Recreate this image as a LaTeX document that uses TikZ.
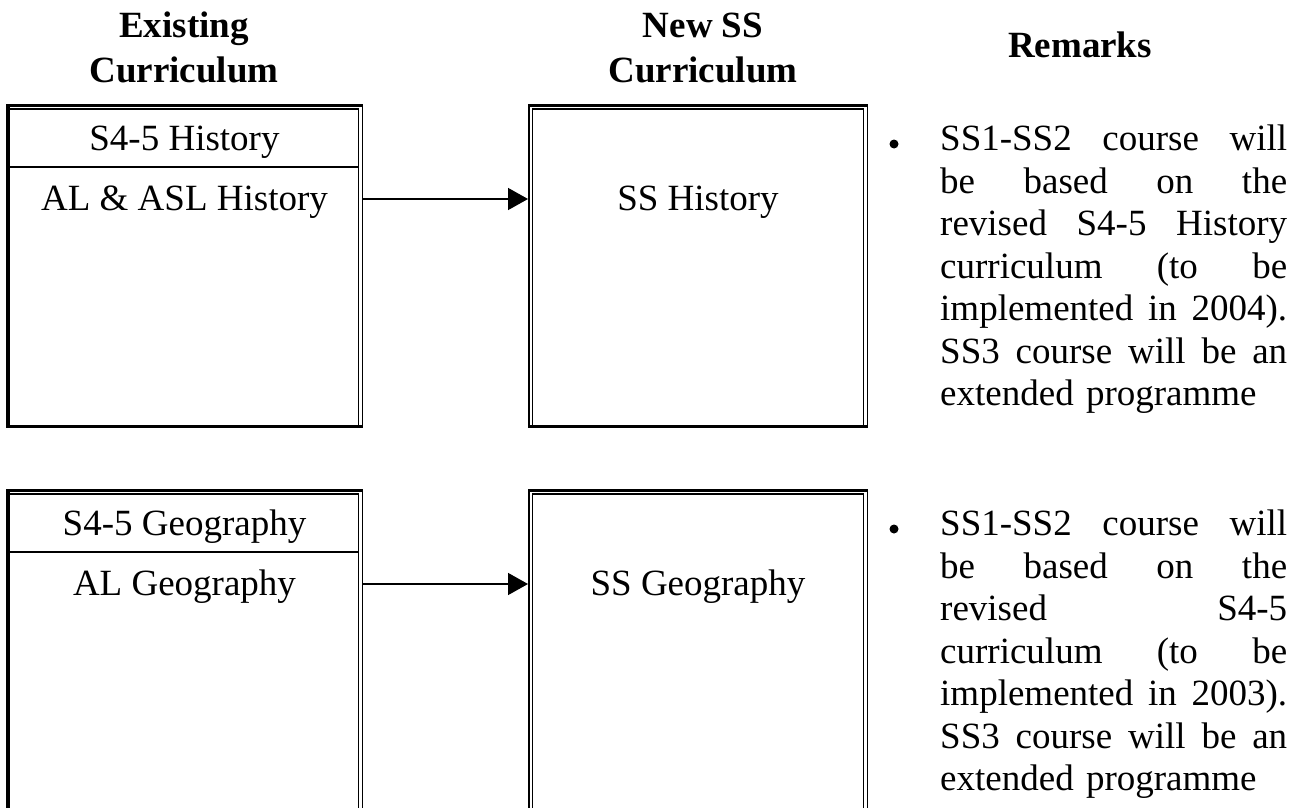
\documentclass[tikz,border=0pt]{standalone}
\usepackage{fontspec}
\setmainfont{Liberation Serif}
\usetikzlibrary{arrows.meta,calc}
\newcommand{\bodyfont}{\fontsize{37}{42.5}\selectfont}
\newcommand{\headfont}{\fontsize{37}{45}\selectfont\bfseries}
\newcommand{\jl}[1]{\makebox[347pt][s]{\spaceskip=0pt\xspaceskip=0pt\relax #1}}
\tikzset{
  boxarea/.style={draw=none,inner sep=0pt,outer sep=0pt,minimum width=#1,minimum height=324pt,anchor=north west},
  thickln/.style={line width=3pt},
  vthick/.style={line width=4pt},
  thinln/.style={line width=1.5pt},
  lbl/.style={font=\bodyfont,inner sep=0pt,anchor=base},
  head/.style={font=\headfont,inner sep=0pt,anchor=base,align=center},
  remark/.style={font=\bodyfont,inner sep=0pt,anchor=north west,text width=347pt,align=left},
  arr/.style={line width=1.5pt,-{Triangle[length=20pt,width=22pt]}},
  bul/.style={circle,fill=black,inner sep=0pt,minimum size=9pt}
}
% #1 node name; left border single thick
\newcommand{\frameA}[1]{%
  \draw[thickln] ([yshift=-1.5pt]#1.north west) -- ([yshift=-1.5pt]#1.north east);
  \draw[thickln] ([yshift=1.5pt]#1.south west) -- ([yshift=1.5pt]#1.south east);
  \draw[vthick] ([xshift=2pt]#1.north west) -- ([xshift=2pt]#1.south west);
  \draw[thinln] ([xshift=-0.75pt]#1.north east) -- ([xshift=-0.75pt]#1.south east);
  \draw[thinln] ([xshift=-4.5pt,yshift=-4pt]#1.north east) -- ([xshift=-4.5pt,yshift=1pt]#1.south east);
  \draw[thinln] ([xshift=4pt,yshift=-5pt]#1.north west) -- ([xshift=-4.5pt,yshift=-5pt]#1.north east);
}
% left border double
\newcommand{\frameB}[1]{%
  \draw[thickln] ([yshift=-1.5pt]#1.north west) -- ([yshift=-1.5pt]#1.north east);
  \draw[thickln] ([yshift=1.5pt]#1.south west) -- ([yshift=1.5pt]#1.south east);
  \draw[line width=2pt] ([xshift=1pt]#1.north west) -- ([xshift=1pt]#1.south west);
  \draw[thinln] ([xshift=4.5pt,yshift=-4pt]#1.north west) -- ([xshift=4.5pt,yshift=1pt]#1.south west);
  \draw[thinln] ([xshift=-0.75pt]#1.north east) -- ([xshift=-0.75pt]#1.south east);
  \draw[thinln] ([xshift=-4.5pt,yshift=-4pt]#1.north east) -- ([xshift=-4.5pt,yshift=1pt]#1.south east);
  \draw[thinln] ([xshift=4.5pt,yshift=-5pt]#1.north west) -- ([xshift=-4.5pt,yshift=-5pt]#1.north east);
}
\begin{document}
\begin{tikzpicture}[x=1pt,y=-1pt]
\useasboundingbox (0,0) rectangle (1301,808);
\clip (0,0) rectangle (1301,808);
% headings (base anchor = last line)
\node[head] (h1) at (184,82) {Existing\\Curriculum};
\node[head] (h2) at (703,82) {New SS\\Curriculum};
\node[head] (h3) at (1080,58) {Remarks};
% ---------- row 1 ----------
\node[boxarea=357pt] (b1) at (6,104) {};
\node[boxarea=340pt] (b2) at (528,104) {};
\frameA{b1}
\frameB{b2}
\coordinate (d1) at (10,167);
\draw[thinln] (d1) -- (d1 -| {$(b1.east)+(-4.5pt,0)$});
\node[lbl] (t1a) at (184.5,150) {S4-5 History};
\node[lbl] (t1b) at (184.5,210) {AL \& ASL History};
\node[lbl] (t2) at (698,210) {SS History};
\coordinate (a1) at (0,199);
\draw[arr] (b1.east |- a1) -- (b2.west |- a1);
\node[bul] (u1) at (894,144) {};
\node[remark] (r1) at (940,125) {\jl{SS1-SS2 course will}\\\jl{be based on the}\\\jl{revised S4-5 History}\\\jl{curriculum (to be}\\\jl{implemented in 2004).}\\\jl{SS3 course will be an}\\extended programme};
% ---------- row 2 ----------
\node[boxarea=357pt] (b3) at (6,489) {};
\node[boxarea=340pt] (b4) at (528,489) {};
\frameA{b3}
\frameB{b4}
\coordinate (d2) at (10,552);
\draw[thinln] (d2) -- (d2 -| {$(b3.east)+(-4.5pt,0)$});
\node[lbl] (t3a) at (184.5,535) {S4-5 Geography};
\node[lbl] (t3b) at (184.5,595) {AL Geography};
\node[lbl] (t4) at (698,595) {SS Geography};
\coordinate (a2) at (0,584);
\draw[arr] (b3.east |- a2) -- (b4.west |- a2);
\node[bul] (u2) at (894,529) {};
\node[remark] (r2) at (940,510) {\jl{SS1-SS2 course will}\\\jl{be based on the}\\\jl{revised S4-5}\\\jl{curriculum (to be}\\\jl{implemented in 2003).}\\\jl{SS3 course will be an}\\extended programme};
\end{tikzpicture}
\end{document}
